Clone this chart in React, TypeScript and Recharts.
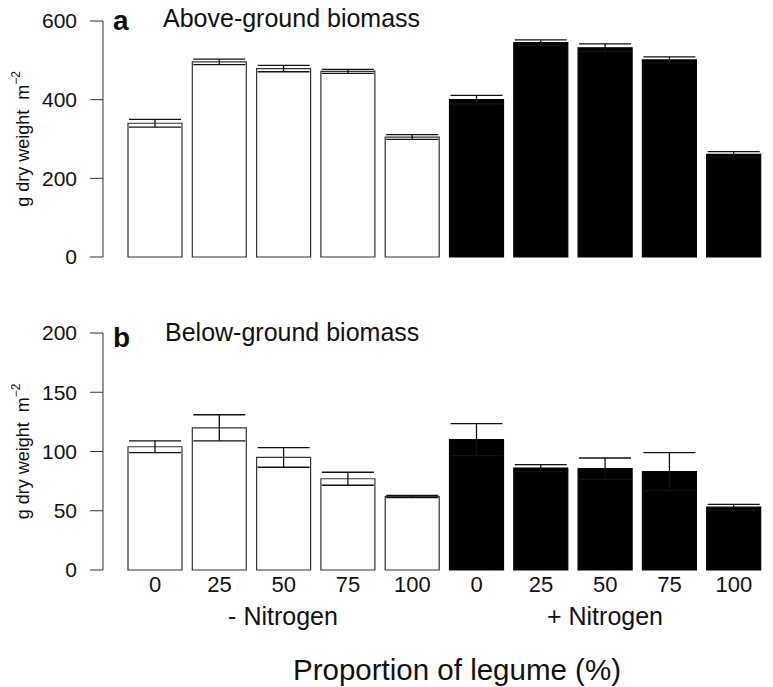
import React from 'react'
import { BarChart, Bar, XAxis, YAxis, ErrorBar, Cell } from 'recharts'

const legume = ['0', '25', '50', '75', '100', '0', '25', '50', '75', '100']
const nitrogen = ['-', '-', '-', '-', '-', '+', '+', '+', '+', '+']
const aboveMean = [340, 496, 479, 472, 305, 400, 545, 532, 501, 261]
const aboveErr = [10, 7, 8, 5, 6, 11, 7, 10, 8, 7]
const belowMean = [104, 120, 95, 77, 62, 110, 86, 85.5, 83, 53]
const belowErr = [5, 11, 8.3, 5.5, 1, 13.5, 3, 9, 16, 2.3]
const aboveTicks = [0, 200, 400, 600]
const belowTicks = [0, 50, 100, 150, 200]

const FONT = '"Liberation Sans", Arial, Helvetica, sans-serif'

const aboveData = legume.map((l, i) => ({ id: i, legume: l, n: nitrogen[i], mean: aboveMean[i], err: aboveErr[i] }))
const belowData = legume.map((l, i) => ({ id: i, legume: l, n: nitrogen[i], mean: belowMean[i], err: belowErr[i] }))

function YLabel(props: any) {
  const vb = props.viewBox || {}
  const cx = 21
  const cy = vb.y + vb.height / 2
  return (
    <text x={cx} y={cy} transform={`rotate(-90 ${cx} ${cy})`} textAnchor="middle"
      fontFamily={FONT} fontSize={18} fill="#111" style={{ whiteSpace: 'pre' }}>
      {'g dry weight  m'}
      <tspan fontSize={12} dy={-9}>{'\u22122'}</tspan>
    </text>
  )
}

function Panel({ data, ticks, max, showX }: { data: any[]; ticks: number[]; max: number; showX: boolean }) {
  return (
    <BarChart
      width={765}
      height={showX ? 409 : 260}
      data={data}
      margin={showX ? { top: 55, right: 7, bottom: 77, left: 0 } : { top: 13, right: 7, bottom: 11, left: 0 }}
      barCategoryGap={5}
    >
      <XAxis
        dataKey="id"
        hide={!showX}
        height={40}
        padding={{ left: 20, right: 0 }}
        axisLine={false}
        tickLine={false}
        tickSize={0}
        tickMargin={6}
        interval={0}
        tickFormatter={(v: any) => legume[v]}
        tick={{ fontSize: 22, fontFamily: FONT, fill: '#111' }}
      />
      <YAxis
        width={95}
        domain={[0, max]}
        ticks={ticks}
        interval={0}
        tickSize={13}
        tickMargin={13}
        axisLine={{ stroke: '#333' }}
        tickLine={{ stroke: '#333' }}
        tick={{ fontSize: 21, fontFamily: FONT, fill: '#111' }}
        label={<YLabel />}
      />
      <Bar dataKey="mean" isAnimationActive={false} strokeWidth={1.2}>
        {data.map((d) => (
          <Cell key={d.id} fill={d.n === '-' ? '#ffffff' : '#000000'} stroke={d.n === '-' ? '#333' : '#000'} />
        ))}
        <ErrorBar dataKey="err" width={26} stroke="#111" strokeWidth={1.3} direction="y" />
      </Bar>
    </BarChart>
  )
}

export default function App() {
  return (
    <div style={{ position: 'relative', width: 765, height: 679, background: '#fff' }}>
      <div style={{ position: 'absolute', left: 0, top: 0 }}>
        <Panel data={aboveData} ticks={aboveTicks} max={600} showX={false} />
      </div>
      <div style={{ position: 'absolute', left: 0, top: 270 }}>
        <Panel data={belowData} ticks={belowTicks} max={200} showX={true} />
      </div>
      {/* panel titles and group labels, in page coordinates */}
      <svg width={773} height={687} style={{ position: 'absolute', left: -8, top: -8, pointerEvents: 'none' }}>
        <g fontFamily={FONT} fill="#111">
          <text x={113} y={30} fontSize={28} fontWeight="bold">a</text>
          <text x={163} y={27} fontSize={25}>Above-ground biomass</text>
          <text x={113} y={347} fontSize={28} fontWeight="bold">b</text>
          <text x={165} y={341} fontSize={25}>Below-ground biomass</text>
          <text x={283} y={625} fontSize={25} textAnchor="middle">- Nitrogen</text>
          <text x={605} y={625} fontSize={25} textAnchor="middle">+ Nitrogen</text>
          <text x={457} y={680} fontSize={29.5} textAnchor="middle">Proportion of legume (%)</text>
        </g>
      </svg>
    </div>
  )
}
